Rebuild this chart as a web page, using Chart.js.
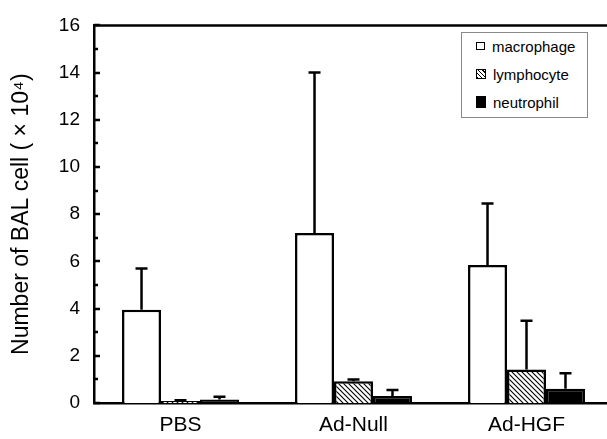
<!DOCTYPE html>
<html><head><meta charset="utf-8">
<script src="https://cdn.jsdelivr.net/npm/chart.js@4/dist/chart.umd.min.js"></script>
<style>
html,body{margin:0;padding:0;overflow:hidden;background:#fff;width:607px;height:439px}
#wrap{position:relative;width:613px;height:439px}
#legend{position:absolute;left:461px;top:32px;width:125px;height:84px;border:1px solid #888;background:#fff;font-family:"Liberation Sans",Arial,sans-serif;font-size:15px;color:#000}
.item{position:absolute;left:14px;height:16px;display:flex;align-items:center;white-space:nowrap}
.sw{display:inline-block;box-sizing:border-box;border:1px solid #000;margin-right:7px}
</style></head>
<body><div id="wrap"><canvas id="c" width="613" height="439"></canvas><div id="legend"></div></div>
<script>
const categories = ['PBS', 'Ad-Null', 'Ad-HGF'];
const seriesNames = ['macrophage', 'lymphocyte', 'neutrophil'];
const macrophage = [3.95, 7.2, 5.85];
const lymphocyte = [0.08, 0.92, 1.42];
const neutrophil = [0.15, 0.3, 0.6];
const macrophageErr = [1.75, 6.8, 2.6];
const lymphocyteErr = [0.04, 0.08, 2.06];
const neutrophilErr = [0.12, 0.25, 0.66];
const yMin = 0, yMax = 16, yStep = 2;
const yTitle = 'Number of BAL cell ( \u00d7 10\u2074)';

const canvas = document.getElementById('c');
const ctx = canvas.getContext('2d');
function hatch() {
  const s = 5, c = document.createElement('canvas');
  c.width = s; c.height = s;
  const g = c.getContext('2d');
  g.fillStyle = '#fff'; g.fillRect(0, 0, s, s);
  g.strokeStyle = '#000'; g.lineWidth = 1.1;
  g.beginPath();
  g.moveTo(-1, -1); g.lineTo(s + 1, s + 1);
  g.moveTo(-1, s - 1); g.lineTo(1, s + 1);
  g.moveTo(s - 1, -1); g.lineTo(s + 1, 1);
  g.stroke();
  return ctx.createPattern(c, 'repeat');
}
const fills = ['#fff', hatch(), '#000'];
const values = [macrophage, lymphocyte, neutrophil];
const errors = [macrophageErr, lymphocyteErr, neutrophilErr];

const errPlugin = {
  id: 'err',
  afterDatasetsDraw(chart) {
    const c = chart.ctx, y = chart.scales.y;
    c.save(); c.strokeStyle = '#000'; c.lineWidth = 2.5;
    errors.forEach((arr, i) => {
      chart.getDatasetMeta(i).data.forEach((el, j) => {
        const v = chart.data.datasets[i].data[j];
        const yt = y.getPixelForValue(v + arr[j]);
        c.beginPath();
        c.moveTo(el.x, el.y); c.lineTo(el.x, yt);
        c.moveTo(el.x - 6, yt); c.lineTo(el.x + 6, yt);
        c.stroke();
      });
    });
    c.restore();
  }
};
const framePlugin = {
  id: 'frame',
  afterDraw(chart) {
    const c = chart.ctx, a = chart.chartArea, y = chart.scales.y;
    c.save(); c.strokeStyle = '#000'; c.lineWidth = 2.5;
    c.beginPath(); c.moveTo(a.left - 1, a.top); c.lineTo(chart.width, a.top); c.stroke();
    for (let v = yMin; v <= yMax; v += 1) {
      const py = Math.round(y.getPixelForValue(v));
      const len = v % 2 === 0 ? 6 : 4;
      c.beginPath(); c.moveTo(a.left, py); c.lineTo(a.left + len, py); c.stroke();
    }
    c.restore();
  }
};

new Chart(ctx, {
  type: 'bar',
  data: {
    labels: categories,
    datasets: seriesNames.map((n, i) => ({
      label: n, data: values[i], backgroundColor: fills[i],
      borderColor: '#000', borderWidth: 2.5,
      categoryPercentage: 0.676, barPercentage: 1.0
    }))
  },
  options: {
    responsive: false, animation: false,
    layout: { padding: { top: 21, left: 0, right: 0, bottom: 0 } },
    plugins: { legend: { display: false }, tooltip: { enabled: false } },
    scales: {
      x: {
        grid: { display: false, drawTicks: false },
        border: { display: true, color: '#000', width: 2.5 },
        ticks: { color: '#000', padding: 10, font: { family: '"Liberation Sans", Arial, sans-serif', size: 21 } },
        afterFit(s) { s.height = 36; }
      },
      y: {
        min: yMin, max: yMax,
        grid: { display: false, drawTicks: false },
        border: { display: true, color: '#000', width: 2.5 },
        ticks: { stepSize: yStep, color: '#000', padding: 14, font: { family: '"Liberation Sans", Arial, sans-serif', size: 19 } },
        title: { display: true, text: yTitle, color: '#000', padding: { top: 8, bottom: 0 }, font: { family: '"Liberation Sans", Arial, sans-serif', size: 23 } },
        afterFit(s) { s.width = 94; }
      }
    }
  },
  plugins: [errPlugin, framePlugin]
});

const legend = document.getElementById('legend');
const rowTops = [5, 33, 61];
const swatchCss = [
  'width:9px;height:8px;background:#fff;',
  'width:10px;height:10px;background:repeating-linear-gradient(45deg,#000 0 1px,#fff 1px 3px);',
  'width:10px;height:12px;background:#000;'
];
seriesNames.forEach((n, i) => {
  const d = document.createElement('div');
  d.className = 'item'; d.style.top = rowTops[i] + 'px';
  const sw = document.createElement('span'); sw.className = 'sw'; sw.style.cssText = swatchCss[i];
  d.appendChild(sw); d.appendChild(document.createTextNode(n));
  legend.appendChild(d);
});
</script>
</body></html>
